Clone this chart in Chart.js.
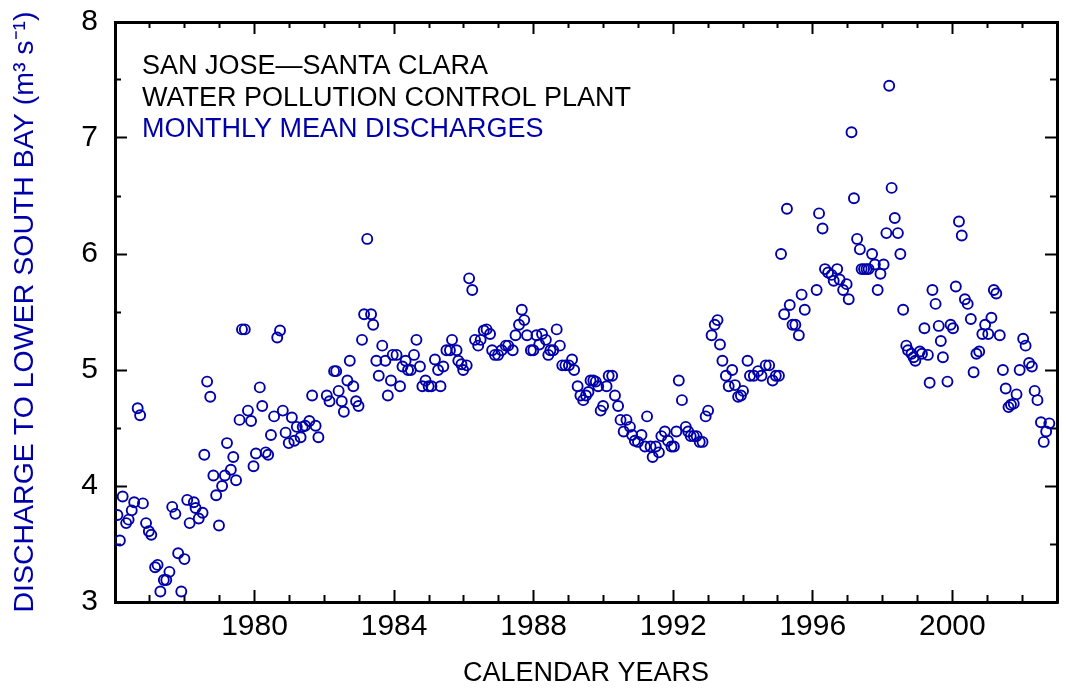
<!DOCTYPE html>
<html>
<head>
<meta charset="utf-8">
<script src="https://cdn.jsdelivr.net/npm/chart.js@4.4.1/dist/chart.umd.min.js"></script>
<style>
  html, body { margin: 0; padding: 0; background: #ffffff; }
  #wrap { width: 1066px; height: 691px; position: relative; }
</style>
</head>
<body>
<div id="wrap"><canvas id="chart" width="1066" height="691"></canvas></div>
<script>
// ---------------- data ----------------
const plantLabelLines = ['SAN JOSE\u2014SANTA CLARA', 'WATER POLLUTION CONTROL PLANT'];
const seriesLabel = 'MONTHLY MEAN DISCHARGES';
const xAxisTitle = 'CALENDAR YEARS';
const yAxisTitle = 'DISCHARGE TO LOWER SOUTH BAY (m\u00B3 s\u207B\u00B9)';
const yearTickLabels = [1980, 1984, 1988, 1992, 1996, 2000];
const dischargeTickLabels = [3, 4, 5, 6, 7, 8];
const yearRange = [1976, 2003];
const dischargeRange = [3, 8];

// decimal year of each monthly mean
const sampleDates = [
  1976.07,1976.14,1976.22,1976.32,1976.39,1976.48,1976.55,1976.65,1976.72,1976.80,1976.89,1976.97,
  1977.04,1977.15,1977.22,1977.30,1977.40,1977.47,1977.56,1977.64,1977.73,1977.81,1977.90,1977.99,
  1978.07,1978.14,1978.26,1978.31,1978.40,1978.51,1978.56,1978.64,1978.73,1978.82,1978.90,1978.98,
  1979.07,1979.15,1979.21,1979.32,1979.39,1979.47,1979.57,1979.64,1979.72,1979.81,1979.90,1979.97,
  1980.04,1980.15,1980.22,1980.32,1980.39,1980.47,1980.56,1980.65,1980.73,1980.81,1980.89,1980.98,
  1981.07,1981.14,1981.21,1981.32,1981.38,1981.45,1981.57,1981.65,1981.75,1981.83,
  1982.07,1982.15,1982.28,1982.34,1982.41,1982.50,1982.56,1982.66,1982.73,1982.83,1982.91,1982.98,
  1983.08,1983.14,1983.23,1983.34,1983.40,1983.49,1983.56,1983.66,1983.75,1983.82,1983.91,1983.96,
  1984.07,1984.17,1984.24,1984.33,1984.40,1984.48,1984.57,1984.64,1984.74,1984.81,1984.90,1984.99,
  1985.07,1985.17,1985.26,1985.33,1985.41,1985.50,1985.60,1985.66,1985.79,1985.84,1985.93,1985.98,
  1986.08,1986.15,1986.24,1986.32,1986.41,1986.48,1986.57,1986.65,1986.75,1986.81,1986.89,1986.98,
  1987.08,1987.20,1987.27,1987.40,1987.48,1987.58,1987.66,1987.73,1987.81,1987.92,1987.99,
  1988.08,1988.16,1988.24,1988.35,1988.42,1988.48,1988.56,1988.66,1988.75,1988.82,1988.91,
  1989.01,1989.10,1989.16,1989.26,1989.34,1989.42,1989.50,1989.57,1989.63,1989.71,1989.78,1989.85,1989.92,1989.99,
  1990.09,1990.15,1990.25,1990.33,1990.42,1990.49,1990.58,1990.66,1990.76,1990.82,1990.90,1990.99,
  1991.09,1991.19,1991.25,1991.35,1991.41,1991.50,1991.59,1991.66,1991.76,1991.85,1991.95,
  1992.02,1992.09,1992.16,1992.25,1992.36,1992.43,1992.50,1992.59,1992.67,1992.76,1992.84,1992.93,
  1993.00,1993.10,1993.19,1993.27,1993.34,1993.41,1993.51,1993.59,1993.69,1993.77,1993.86,1993.94,
  1994.00,1994.13,1994.20,1994.31,1994.43,1994.53,1994.65,1994.75,1994.85,1994.94,
  1995.03,1995.09,1995.18,1995.26,1995.34,1995.42,1995.50,1995.60,1995.68,1995.77,
  1996.11,1996.18,1996.28,1996.35,1996.44,1996.54,1996.60,1996.70,1996.77,1996.87,1996.97,
  1997.03,1997.11,1997.18,1997.27,1997.35,1997.40,1997.47,1997.54,1997.60,1997.70,1997.78,1997.86,1997.94,
  1998.03,1998.11,1998.19,1998.26,1998.35,1998.44,1998.51,1998.59,1998.68,1998.73,1998.83,1998.89,1998.94,
  1999.07,1999.13,1999.20,1999.30,1999.35,1999.43,1999.52,1999.61,1999.67,1999.73,1999.86,1999.95,
  2000.02,2000.10,2000.19,2000.27,2000.36,2000.44,2000.53,2000.61,2000.69,2000.77,2000.86,2000.94,
  2001.03,2001.12,2001.19,2001.26,2001.36,2001.45,2001.53,2001.61,2001.68,2001.76,2001.84,2001.93,
  2002.03,2002.10,2002.20,2002.28,2002.36,2002.44,2002.54,2002.62,2002.69,2002.78
];

// monthly mean discharge, m3/s
const monthlyDischarge = [
  3.75,3.53,3.91,3.68,3.71,3.79,3.86,4.67,4.61,3.85,3.68,3.61,
  3.58,3.30,3.32,3.09,3.19,3.19,3.26,3.82,3.76,3.42,3.09,3.37,
  3.88,3.68,3.86,3.81,3.72,3.77,4.27,4.90,4.77,4.09,3.92,3.66,
  4.00,4.09,4.37,4.14,4.25,4.05,4.57,5.35,5.35,4.65,4.56,4.17,
  4.28,4.85,4.69,4.29,4.27,4.44,4.60,5.28,5.34,4.65,4.46,4.37,
  4.59,4.39,4.51,4.42,4.51,4.52,4.56,4.78,4.52,4.42,
  4.78,4.73,4.99,4.99,4.82,4.73,4.64,4.91,5.08,4.86,4.73,4.69,
  5.26,5.48,6.13,5.48,5.39,5.08,4.95,5.21,5.08,4.78,4.91,5.13,
  5.13,4.86,5.03,5.08,5.00,5.00,5.13,5.26,5.03,4.86,4.91,4.86,
  4.86,5.09,5.00,4.86,5.03,5.17,5.17,5.26,5.17,5.08,5.05,5.00,
  5.04,5.79,5.69,5.26,5.21,5.26,5.34,5.35,5.31,5.17,5.13,5.13,
  5.17,5.21,5.21,5.17,5.30,5.39,5.52,5.43,5.30,5.17,5.17,
  5.30,5.22,5.31,5.26,5.13,5.17,5.17,5.35,5.21,5.04,5.04,
  5.04,5.09,5.00,4.86,4.78,4.74,4.78,4.81,4.91,4.91,4.90,4.86,4.65,4.69,
  4.86,4.95,4.95,4.78,4.69,4.57,4.47,4.57,4.51,4.44,4.39,4.38,
  4.44,4.34,4.60,4.34,4.25,4.34,4.29,4.43,4.47,4.39,4.34,
  4.34,4.47,4.91,4.74,4.51,4.47,4.43,4.43,4.43,4.38,4.38,4.60,
  4.65,5.30,5.39,5.43,5.22,5.08,4.95,4.86,5.00,4.87,4.77,4.78,
  4.82,5.08,4.95,4.95,4.99,4.95,5.04,5.04,4.91,4.95,
  4.95,6.00,5.48,6.39,5.56,5.39,5.39,5.30,5.65,5.52,
  5.69,6.35,6.22,5.87,5.84,5.82,5.77,5.87,5.78,5.69,5.74,
  5.61,7.05,6.48,6.13,6.04,5.87,5.87,5.87,5.87,6.00,5.91,5.69,5.83,
  5.91,6.18,7.45,6.57,6.31,6.18,6.00,5.52,5.21,5.17,5.14,5.11,5.08,
  5.16,5.14,5.36,5.13,4.89,5.69,5.57,5.38,5.25,5.11,4.90,5.39,
  5.36,5.72,6.28,6.16,5.61,5.57,5.44,4.98,5.14,5.16,5.31,5.39,
  5.31,5.45,5.69,5.66,5.30,5.00,4.84,4.68,4.70,4.71,4.79,5.00,
  5.27,5.21,5.06,5.03,4.82,4.74,4.55,4.38,4.47,4.54
];

// ---------------- styling ----------------
const BLUE = '#0000AA';
const FONT = '"Liberation Sans", Arial, sans-serif';
const MAJOR_LEN = 12;

const points = sampleDates.map((d, i) => ({ x: d, y: monthlyDischarge[i] }));

const isMajorYear = v => Math.abs(v % 4) < 1e-6;
const isMajorQ = v => Math.abs(v - Math.round(v)) < 1e-6;

// minor ticks shortened with a dash pattern; dash starts at the border (bottom/right) or inside (top/left)
const dashFromBorder = [9, 100];
const dashFromInside = [0, 6, 100];

const frameGrid = (isMajor, fromBorder) => ({
  display: true,
  drawOnChartArea: false,
  drawTicks: true,
  tickLength: -MAJOR_LEN,
  tickWidth: 2,
  tickColor: '#000',
  tickBorderDash: ctx => (ctx.tick && isMajor(ctx.tick.value)) ? [] : (fromBorder ? dashFromBorder : dashFromInside)
});
const frameBorder = { display: true, color: '#000', width: 3 };

// fixed box sizes so the plot frame lands exactly where the reference has it
const fixBox = (w, h) => s => {
  if (w !== null) s.width = w;
  if (h !== null) s.height = h;
  s.paddingLeft = 0; s.paddingRight = 0; s.paddingTop = 0; s.paddingBottom = 0;
};

const plantLabelPlugin = {
  id: 'plantLabel',
  afterDraw(chart) {
    const { ctx, chartArea } = chart;
    ctx.save();
    ctx.font = '27px ' + FONT;
    ctx.textBaseline = 'alphabetic';
    ctx.textAlign = 'left';
    const x = chartArea.left + 27;
    ctx.fillStyle = '#000';
    ctx.fillText(plantLabelLines[0], x, chartArea.top + 52);
    ctx.fillText(plantLabelLines[1], x, chartArea.top + 84);
    ctx.fillStyle = BLUE;
    ctx.fillText(seriesLabel, x, chartArea.top + 115);
    ctx.restore();
  }
};

new Chart(document.getElementById('chart'), {
  type: 'scatter',
  data: {
    datasets: [{
      label: seriesLabel,
      data: points,
      pointStyle: 'circle',
      pointRadius: 5,
      pointBorderWidth: 1.9,
      pointBorderColor: BLUE,
      pointBackgroundColor: 'rgba(0,0,0,0)',
      pointHoverRadius: 5,
      showLine: false
    }]
  },
  options: {
    responsive: false,
    animation: false,
    devicePixelRatio: 1,
    layout: { autoPadding: false, padding: { left: 0, right: 9, top: 22, bottom: 0 } },
    plugins: { legend: { display: false }, tooltip: { enabled: false } },
    scales: {
      x: {
        type: 'linear', position: 'bottom',
        min: yearRange[0], max: yearRange[1],
        ticks: {
          stepSize: 1, autoSkip: false, maxRotation: 0, minRotation: 0,
          padding: 19, color: '#000', font: { family: FONT, size: 30 },
          callback: v => yearTickLabels.includes(v) ? String(v) : ''
        },
        grid: frameGrid(isMajorYear, true),
        border: frameBorder,
        title: { display: true, text: xAxisTitle, color: '#000', font: { family: FONT, size: 27 }, padding: { top: 0, bottom: 1 } },
        afterFit: fixBox(null, 89)
      },
      x2: {
        type: 'linear', position: 'top',
        min: yearRange[0], max: yearRange[1],
        ticks: { stepSize: 1, autoSkip: false, display: false },
        grid: frameGrid(isMajorYear, false),
        border: frameBorder,
        afterFit: fixBox(null, 0)
      },
      y: {
        type: 'linear', position: 'left',
        min: dischargeRange[0], max: dischargeRange[1],
        ticks: {
          stepSize: 0.5, autoSkip: false,
          padding: 29, color: '#000', font: { family: FONT, size: 30 },
          callback: v => dischargeTickLabels.includes(v) ? String(v) : ''
        },
        grid: frameGrid(isMajorQ, false),
        border: frameBorder,
        title: { display: true, text: yAxisTitle, color: BLUE, font: { family: FONT, size: 28.5 }, padding: { top: 8, bottom: 0 } },
        afterFit: fixBox(115, null)
      },
      y2: {
        type: 'linear', position: 'right',
        min: dischargeRange[0], max: dischargeRange[1],
        ticks: { stepSize: 0.5, autoSkip: false, display: false },
        grid: frameGrid(isMajorQ, true),
        border: frameBorder,
        afterFit: fixBox(0, null)
      }
    }
  },
  plugins: [plantLabelPlugin]
});
</script>
</body>
</html>
